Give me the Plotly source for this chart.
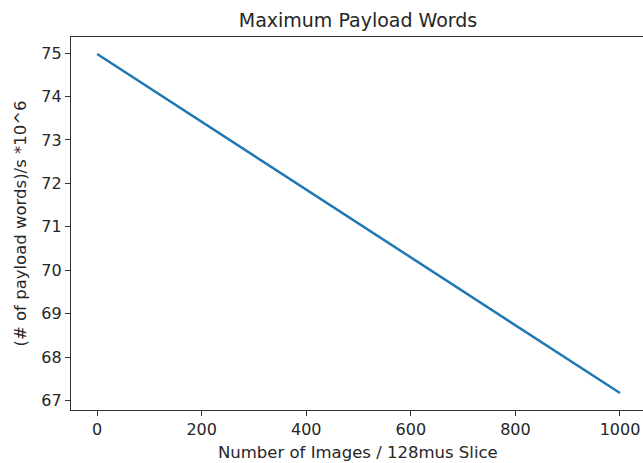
import plotly.graph_objects as go

x_images = [0, 1000]
payload_words = [74.98, 67.17]
x_ticks = [0, 200, 400, 600, 800, 1000]
y_ticks = [67, 68, 69, 70, 71, 72, 73, 74, 75]

font = "DejaVu Sans, Liberation Sans, sans-serif"
W, H = 643, 463
L, T, B = 71, 37, 410
plot_w, plot_h = W - L, B - T

fig = go.Figure(go.Scatter(x=x_images, y=payload_words, mode="lines",
                           line=dict(color="#1f77b4", width=2.5), showlegend=False))

fig.update_layout(
    width=W, height=H,
    margin=dict(l=L, r=0, t=T, b=H - B, autoexpand=False),
    plot_bgcolor="white", paper_bgcolor="white",
    font=dict(family=font, size=16, color="#262626"),
    title=dict(text="Maximum Payload Words", x=358 / W, xanchor="center", xref="container",
               y=1 - 20 / H, yanchor="middle", font=dict(size=19, color="#262626")),
    annotations=[
        dict(text="Number of Images / 128mus Slice", xref="paper", yref="paper",
             x=(358 - L) / plot_w, y=-(452 - B) / plot_h, xanchor="center", yanchor="middle",
             showarrow=False, font=dict(size=16.5)),
        dict(text="(# of payload words)/s *10^6", xref="paper", yref="paper",
             x=-(L - 20) / plot_w, y=0.5, xanchor="center", yanchor="middle",
             textangle=-90, showarrow=False, font=dict(size=16.5)),
    ],
)
fig.update_xaxes(range=[-50, 1044], tickvals=x_ticks, showgrid=False, zeroline=False,
                 automargin=False,
                 showline=True, linecolor="#333333", linewidth=1.2, mirror=True,
                 ticks="outside", ticklen=5, tickcolor="#333333")
fig.update_yaxes(range=[66.78, 75.37], tickvals=y_ticks, showgrid=False, zeroline=False,
                 automargin=False,
                 showline=True, linecolor="#333333", linewidth=1.2,
                 ticks="outside", ticklen=5, tickcolor="#333333")

fig.write_html("out.html", config={"displayModeBar": False},
               post_script="document.body.style.margin='0';document.body.style.overflow='hidden';")
